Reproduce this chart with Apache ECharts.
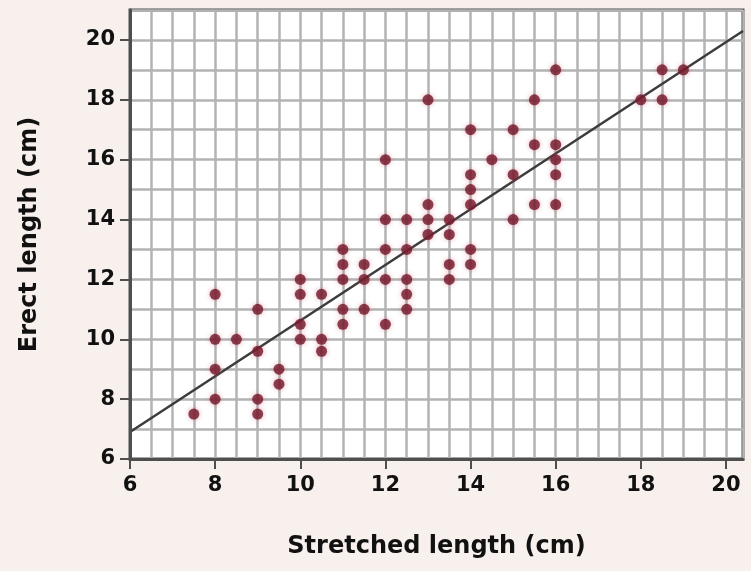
<!DOCTYPE html>
<html>
<head>
<meta charset="utf-8">
<script src="https://cdn.jsdelivr.net/npm/echarts@6/dist/echarts.min.js"></script>
<style>
  html, body { margin: 0; padding: 0; background: #f7f0ed; }
  #chart { width: 751px; height: 571px; }
</style>
</head>
<body>
<div id="chart"></div>
<script>
// stretched vs erect length
const stretched = [
  7.5, 8, 8, 8, 8, 8.5, 9, 9, 9, 9, 9.5, 9.5,
  10, 10, 10, 10, 10.5, 10.5, 10.5,
  11, 11, 11, 11, 11,
  11.5, 11.5, 11.5,
  12, 12, 12, 12, 12,
  12.5, 12.5, 12.5, 12.5, 12.5,
  13, 13, 13, 13,
  13.5, 13.5, 13.5, 13.5,
  14, 14, 14, 14, 14, 14,
  14.5,
  15, 15, 15,
  15.5, 15.5, 15.5,
  16, 16, 16, 16, 16,
  18, 18.5, 18.5, 19
];
const erect = [
  7.5, 11.5, 10, 9, 8, 10, 11, 9.6, 8, 7.5, 9, 8.5,
  12, 11.5, 10.5, 10, 11.5, 10, 9.6,
  13, 12.5, 12, 11, 10.5,
  12.5, 12, 11,
  16, 14, 13, 12, 10.5,
  14, 13, 12, 11.5, 11,
  18, 14.5, 14, 13.5,
  14, 13.5, 12.5, 12,
  17, 15.5, 15, 14.5, 13, 12.5,
  16,
  17, 15.5, 14,
  18, 16.5, 14.5,
  19, 16.5, 16, 15.5, 14.5,
  18, 19, 18, 19
];
// fitted line end points
const fitX = [6, 20.4];
const fitY = [6.9, 20.3];

const xTicks = [6, 8, 10, 12, 14, 16, 18, 20];
const yTicks = [6, 8, 10, 12, 14, 16, 18, 20];

const points = stretched.map((x, i) => [x, erect[i]]);
const fitLine = fitX.map((x, i) => [x, fitY[i]]);

const labelFont = {
  color: '#111',
  fontFamily: 'DejaVu Sans',
  fontWeight: 'bold',
  fontSize: 21
};
const titleFont = Object.assign({}, labelFont, { fontSize: 24 });
const gridLine = { show: true, lineStyle: { color: '#b3b3b3', width: 2.5 } };
const frame = { show: true, lineStyle: { color: '#4e4e4e', width: 3 } };

// axis 0 carries labels and ticks, axis 1 only draws the fine grid
const chart = echarts.init(document.getElementById('chart'));
chart.setOption({
  backgroundColor: '#f7f0ed',
  animation: false,
  grid: {
    left: 130, right: 8, top: 10, bottom: 112,
    show: true,
    backgroundColor: '#fff',
    borderColor: '#4e4e4e',
    borderWidth: 3
  },
  xAxis: [
    {
      type: 'value', min: 6, max: 20.4, interval: 0.5,
      name: 'Stretched length (cm)',
      nameLocation: 'middle',
      nameGap: 76,
      nameTextStyle: titleFont,
      axisLine: frame,
      axisTick: { show: true, customValues: xTicks, length: 10, lineStyle: { color: '#4e4e4e', width: 2 } },
      axisLabel: Object.assign({ customValues: xTicks, margin: 16 }, labelFont),
      splitLine: { show: false },
      z: 5
    },
    {
      type: 'value', min: 6, max: 20.4, interval: 0.5,
      position: 'bottom',
      axisLine: { show: false },
      axisTick: { show: false },
      axisLabel: { show: false },
      splitLine: gridLine
    }
  ],
  yAxis: [
    {
      type: 'value', min: 6, max: 21, interval: 1,
      name: 'Erect length (cm)',
      nameLocation: 'middle',
      nameGap: 88,
      nameTextStyle: Object.assign({ padding: [0, 0, 0, 0] }, titleFont),
      axisLine: frame,
      axisTick: { show: true, customValues: yTicks, length: 10, lineStyle: { color: '#4e4e4e', width: 2 } },
      axisLabel: Object.assign({ customValues: yTicks, margin: 15 }, labelFont),
      splitLine: { show: false },
      z: 5
    },
    {
      type: 'value', min: 6, max: 21, interval: 1,
      position: 'left',
      axisLine: { show: false },
      axisTick: { show: false },
      axisLabel: { show: false },
      splitLine: gridLine
    }
  ],
  series: [
    {
      type: 'line',
      data: fitLine,
      symbol: 'none',
      lineStyle: { color: '#3c3c3c', width: 2.5 },
      z: 3
    },
    {
      type: 'scatter',
      data: points,
      symbol: 'circle',
      symbolSize: 11,
      itemStyle: {
        color: '#721729',
        shadowBlur: 5,
        shadowColor: 'rgba(200, 90, 110, 0.6)'
      },
      z: 4
    }
  ]
});
</script>
</body>
</html>
